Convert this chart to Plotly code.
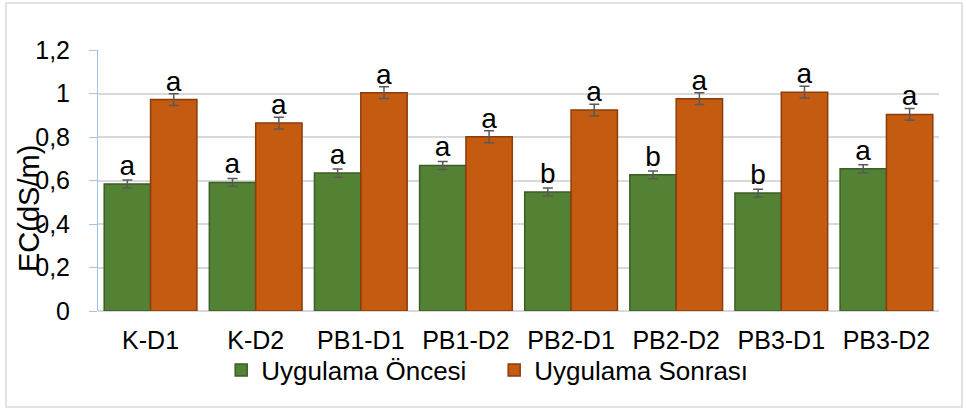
import plotly.graph_objects as go

categories = ["K-D1", "K-D2", "PB1-D1", "PB1-D2", "PB2-D1", "PB2-D2", "PB3-D1", "PB3-D2"]
before_vals = [0.584, 0.591, 0.634, 0.669, 0.547, 0.626, 0.542, 0.654]
after_vals = [0.972, 0.864, 1.004, 0.801, 0.924, 0.976, 1.006, 0.904]
before_err = [0.018, 0.018, 0.019, 0.018, 0.018, 0.018, 0.018, 0.018]
after_err = [0.027, 0.027, 0.027, 0.028, 0.027, 0.027, 0.027, 0.027]
before_letters = ["a", "a", "a", "a", "b", "b", "b", "a"]
after_letters = ["a", "a", "a", "a", "a", "a", "a", "a"]
ytick_vals = [0, 0.2, 0.4, 0.6, 0.8, 1.0, 1.2]
ytick_text = ["0", "0,2", "0,4", "0,6", "0,8", "1", "1,2"]
series_names = ["Uygulama Öncesi", "Uygulama Sonrası"]

FONT = "Liberation Sans, Arial, sans-serif"

fig = go.Figure()
fig.add_trace(go.Bar(
    name=series_names[0], x=categories, y=before_vals,
    marker=dict(color="#548235", line=dict(color="#3B5E26", width=1.5)),
    error_y=dict(type="data", array=before_err, color="#595959", thickness=1.5, width=5),
    text=before_letters, textposition="outside", cliponaxis=False, constraintext="none",
    outsidetextfont=dict(family=FONT, size=28, color="#000000"),
))
fig.add_trace(go.Bar(
    name=series_names[1], x=categories, y=after_vals,
    marker=dict(color="#C55A11", line=dict(color="#8A3D0B", width=1.5)),
    error_y=dict(type="data", array=after_err, color="#595959", thickness=1.5, width=5),
    text=after_letters, textposition="outside", cliponaxis=False, constraintext="none",
    outsidetextfont=dict(family=FONT, size=28, color="#000000"),
))

fig.update_layout(
    width=966, height=410,
    margin=dict(l=98, r=27, t=50, b=99),
    paper_bgcolor="white", plot_bgcolor="white",
    barmode="group", bargap=0.118, bargroupgap=0,
    font=dict(family=FONT, size=24, color="#000000"),
    showlegend=True,
    legend=dict(orientation="h", x=0.156 - 8 / 841, xanchor="left", y=-0.226, yanchor="middle",
                font=dict(family=FONT, size=26), bgcolor="rgba(0,0,0,0)",
                itemwidth=30, tracegroupgap=0, entrywidth=228, entrywidthmode="pixels"),
    xaxis=dict(showgrid=False, showline=False, ticks="", tickfont=dict(size=25),
               ticklabelstandoff=12),
    yaxis=dict(range=[0, 1.2], tickvals=ytick_vals, ticktext=ytick_text,
               showgrid=True, gridcolor="#D9D9D9", gridwidth=1.5,
               zeroline=True, zerolinecolor="#D9D9D9", zerolinewidth=1.5,
               showline=True, linecolor="#9DC3E6", linewidth=1,
               ticks="outside", ticklen=8, tickcolor="#9DC3E6",
               ticklabelstandoff=14, tickfont=dict(size=25)),
    annotations=[dict(text="EC(dS/m)", textangle=-90, xref="paper", yref="paper",
                      x=(29 - 98) / 841, y=(311 - 209) / 261, xanchor="center", yanchor="middle",
                      showarrow=False, font=dict(family=FONT, size=29))],
    shapes=[dict(type="rect", xref="paper", yref="paper",
                 x0=(6 - 98) / 841, x1=(962 - 98) / 841,
                 y0=(311 - 407) / 261, y1=(311 - 3) / 261,
                 line=dict(color="#D9D9D9", width=1.5), fillcolor="rgba(0,0,0,0)", layer="below")],
)

fig.write_html("out.html", config={"displayModeBar": False},
               post_script="document.body.style.margin='0';document.body.style.overflow='hidden';")
